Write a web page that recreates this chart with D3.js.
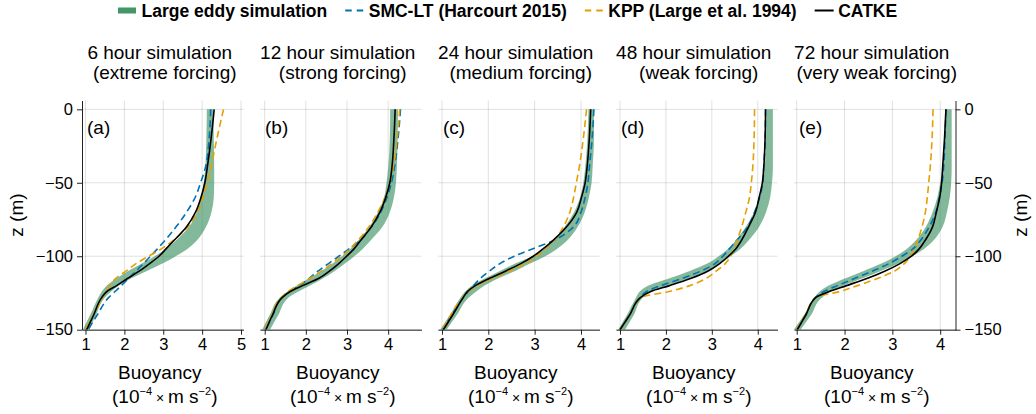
<!DOCTYPE html>
<html>
<head>
<meta charset="utf-8">
<script src="https://cdn.jsdelivr.net/npm/d3@7"></script>
<style>
body { margin: 0; background: #fff; }
svg { font-family: "Liberation Sans", Arial, sans-serif; }
</style>
</head>
<body>
<div id="chart"></div>
<script>
// depth levels (m) shared by every profile
var depths = [0, -20, -40, -50, -60, -70, -80, -90, -95, -100, -105, -110, -115, -120, -124, -128, -140, -150];

var panelTitles = [
    ["6 hour simulation", "(extreme forcing)"],
    ["12 hour simulation", "(strong forcing)"],
    ["24 hour simulation", "(medium forcing)"],
    ["48 hour simulation", "(weak forcing)"],
    ["72 hour simulation", "(very weak forcing)"]
];
var panelLetters = ["(a)", "(b)", "(c)", "(d)", "(e)"];
var xTicks = [[1, 2, 3, 4, 5], [1, 2, 3, 4], [1, 2, 3, 4], [1, 2, 3, 4], [1, 2, 3, 4]];
var xLimits = [[0.91, 5.064], [0.886, 4.81], [0.914, 4.40], [0.913, 4.43], [0.943, 4.32]];
var zTicks = [0, -50, -100, -150];
var zLimits = [-150, 6];

// buoyancy (10^-4 m s^-2), one row per panel
var lesLow = [
    [4.12, 4.11, 4.08, 4.04, 3.97, 3.86, 3.66, 3.30, 3.07, 2.78, 2.45, 2.10, 1.80, 1.55, 1.42, 1.33, 1.12, 0.93],
    [4.05, 4.04, 4.00, 3.96, 3.90, 3.75, 3.54, 3.25, 3.08, 2.88, 2.65, 2.38, 2.08, 1.78, 1.55, 1.37, 1.12, 0.94],
    [4.16, 4.14, 4.09, 4.05, 3.98, 3.85, 3.65, 3.38, 3.20, 2.95, 2.58, 2.25, 1.93, 1.65, 1.50, 1.40, 1.17, 0.96],
    [4.19, 4.18, 4.15, 4.11, 4.04, 3.92, 3.74, 3.50, 3.35, 3.15, 2.90, 2.52, 2.08, 1.62, 1.43, 1.35, 1.15, 0.96],
    [4.12, 4.10, 4.05, 4.00, 3.94, 3.84, 3.70, 3.47, 3.30, 3.07, 2.77, 2.40, 2.02, 1.67, 1.48, 1.37, 1.15, 0.94]
];
var lesHigh = [
    [4.29, 4.30, 4.31, 4.31, 4.30, 4.24, 4.10, 3.84, 3.62, 3.32, 2.98, 2.58, 2.18, 1.86, 1.66, 1.50, 1.27, 1.10],
    [4.24, 4.23, 4.21, 4.19, 4.14, 4.04, 3.86, 3.55, 3.38, 3.18, 2.95, 2.70, 2.42, 2.10, 1.82, 1.58, 1.33, 1.13],
    [4.28, 4.28, 4.25, 4.23, 4.17, 4.08, 3.93, 3.68, 3.48, 3.23, 2.90, 2.58, 2.22, 1.92, 1.74, 1.58, 1.32, 1.10],
    [4.33, 4.33, 4.33, 4.31, 4.27, 4.18, 4.03, 3.78, 3.62, 3.41, 3.18, 2.90, 2.50, 2.04, 1.70, 1.50, 1.30, 1.11],
    [4.24, 4.24, 4.24, 4.23, 4.20, 4.14, 4.05, 3.84, 3.66, 3.42, 3.13, 2.76, 2.38, 1.98, 1.71, 1.53, 1.30, 1.08]
];
var smcLT = [
    [4.22, 4.18, 4.08, 3.96, 3.82, 3.60, 3.33, 3.02, 2.85, 2.67, 2.49, 2.30, 2.11, 1.92, 1.76, 1.60, 1.30, 1.07],
    [4.30, 4.24, 4.15, 4.08, 3.97, 3.82, 3.60, 3.28, 3.05, 2.80, 2.55, 2.30, 2.08, 1.84, 1.62, 1.42, 1.20, 1.03],
    [4.28, 4.24, 4.18, 4.15, 4.09, 4.00, 3.84, 3.36, 2.95, 2.56, 2.25, 2.03, 1.83, 1.68, 1.57, 1.47, 1.21, 1.02],
    [4.17, 4.16, 4.13, 4.11, 4.04, 3.93, 3.78, 3.52, 3.38, 3.24, 3.07, 2.77, 2.36, 1.89, 1.58, 1.44, 1.21, 1.00],
    [4.12, 4.10, 4.07, 4.04, 3.98, 3.91, 3.77, 3.57, 3.43, 3.20, 2.93, 2.59, 2.22, 1.85, 1.57, 1.39, 1.19, 1.01]
];
var kpp = [
    [4.55, 4.38, 4.22, 4.13, 4.02, 3.87, 3.63, 3.22, 2.95, 2.62, 2.30, 2.05, 1.78, 1.61, 1.53, 1.45, 1.20, 1.00],
    [4.28, 4.22, 4.12, 4.04, 3.92, 3.75, 3.53, 3.24, 3.07, 2.87, 2.63, 2.38, 2.10, 1.80, 1.57, 1.40, 1.17, 1.00],
    [4.12, 4.05, 3.96, 3.90, 3.84, 3.76, 3.62, 3.40, 3.23, 3.04, 2.80, 2.47, 2.09, 1.77, 1.57, 1.45, 1.19, 1.00],
    [3.93, 3.92, 3.89, 3.86, 3.82, 3.74, 3.65, 3.54, 3.48, 3.41, 3.29, 3.10, 2.88, 2.52, 2.07, 1.47, 1.21, 1.00],
    [3.85, 3.83, 3.79, 3.76, 3.73, 3.69, 3.62, 3.52, 3.46, 3.38, 3.25, 3.05, 2.70, 2.27, 1.90, 1.40, 1.18, 1.00]
];
var catke = [
    [4.31, 4.23, 4.13, 4.07, 3.97, 3.83, 3.60, 3.25, 3.07, 2.89, 2.65, 2.39, 2.09, 1.80, 1.55, 1.42, 1.21, 1.03],
    [4.17, 4.14, 4.09, 4.04, 3.94, 3.80, 3.59, 3.31, 3.17, 2.99, 2.80, 2.58, 2.32, 1.92, 1.62, 1.43, 1.19, 1.03],
    [4.21, 4.18, 4.13, 4.09, 4.01, 3.91, 3.69, 3.37, 3.18, 2.97, 2.70, 2.38, 2.03, 1.72, 1.55, 1.46, 1.23, 1.03],
    [4.17, 4.16, 4.13, 4.10, 4.03, 3.95, 3.80, 3.63, 3.52, 3.36, 3.17, 2.92, 2.55, 2.08, 1.67, 1.45, 1.21, 1.00],
    [4.12, 4.09, 4.05, 4.03, 3.99, 3.92, 3.84, 3.67, 3.56, 3.40, 3.16, 2.85, 2.48, 2.04, 1.68, 1.40, 1.19, 1.01]
];

var legendLabels = ["Large eddy simulation", "SMC-LT (Harcourt 2015)", "KPP (Large et al. 1994)", "CATKE"];

var svgWidth = 1036;
var svgHeight = 414;

var lesColor = "#2e8b57";
var smcColor = "#0072b2";
var kppColor = "#e69f00";
var catkeColor = "#000000";

var plotTop = 100.5;
var plotBottom = 329.7;
var panelWidth = 161.5;

var svg = d3.select("#chart")
    .append("svg")
    .attr("width", svgWidth)
    .attr("height", svgHeight);

var yScale = d3.scaleLinear()
    .domain(zLimits)
    .range([plotBottom, plotTop]);

panelTitles.forEach(function(title, i) {
    var left = 82 + 178 * i;
    var xScale = d3.scaleLinear()
        .domain(xLimits[i])
        .range([0, panelWidth]);

    var g = svg.append("g")
        .attr("transform", `translate(${left}, 0)`);

    g.append("clipPath")
        .attr("id", "clip" + i)
        .append("rect")
        .attr("x", 0)
        .attr("y", plotTop)
        .attr("width", panelWidth)
        .attr("height", plotBottom - plotTop);

    // grid
    g.selectAll(".vgrid")
        .data(xTicks[i])
        .enter()
        .append("line")
        .attr("x1", d => xScale(d))
        .attr("x2", d => xScale(d))
        .attr("y1", plotTop)
        .attr("y2", plotBottom)
        .attr("stroke", "#000")
        .attr("stroke-opacity", 0.12);

    g.selectAll(".hgrid")
        .data(zTicks)
        .enter()
        .append("line")
        .attr("x1", 0)
        .attr("x2", panelWidth)
        .attr("y1", d => yScale(d))
        .attr("y2", d => yScale(d))
        .attr("stroke", "#000")
        .attr("stroke-opacity", 0.12);

    var plot = g.append("g").attr("clip-path", `url(#clip${i})`);

    var rows = depths.map(function(z, k) {
        return {z: z, lo: lesLow[i][k], hi: lesHigh[i][k], smc: smcLT[i][k], kpp: kpp[i][k], catke: catke[i][k]};
    });

    var band = d3.area()
        .curve(d3.curveMonotoneY)
        .y(d => yScale(d.z))
        .x0(d => xScale(d.lo))
        .x1(d => xScale(d.hi));

    plot.append("path")
        .datum(rows)
        .attr("d", band)
        .attr("fill", lesColor)
        .attr("fill-opacity", 0.6);

    function profile(key) {
        return d3.line()
            .curve(d3.curveMonotoneY)
            .x(d => xScale(d[key]))
            .y(d => yScale(d.z));
    }

    plot.append("path")
        .datum(rows)
        .attr("d", profile("smc"))
        .attr("fill", "none")
        .attr("stroke", smcColor)
        .attr("stroke-width", 1.6)
        .attr("stroke-dasharray", "7,4");

    plot.append("path")
        .datum(rows)
        .attr("d", profile("kpp"))
        .attr("fill", "none")
        .attr("stroke", kppColor)
        .attr("stroke-width", 1.6)
        .attr("stroke-dasharray", "7,4");

    plot.append("path")
        .datum(rows)
        .attr("d", profile("catke"))
        .attr("fill", "none")
        .attr("stroke", catkeColor)
        .attr("stroke-width", 1.6);

    // bottom axis
    var bottomAxis = d3.axisBottom(xScale)
        .tickValues(xTicks[i])
        .tickFormat(d3.format("d"))
        .tickSizeInner(5)
        .tickSizeOuter(0)
        .tickPadding(4);

    var xAxisG = g.append("g")
        .attr("transform", `translate(0, ${plotBottom})`)
        .call(bottomAxis);
    xAxisG.select(".domain").attr("stroke", "#222");
    xAxisG.selectAll(".tick line").attr("stroke", "#222");
    xAxisG.selectAll(".tick text")
        .attr("font-size", 16.5)
        .attr("font-family", null)
        .attr("fill", "#000");

    if (i === 0 || i === panelTitles.length - 1) {
        var yAxis = (i === 0 ? d3.axisLeft(yScale) : d3.axisRight(yScale))
            .tickValues(zTicks)
            .tickFormat(d => d3.format("d")(d).replace("-", "\u2212"))
            .tickSizeInner(5)
            .tickSizeOuter(0)
            .tickPadding(4);
        var yAxisG = g.append("g")
            .attr("transform", `translate(${i === 0 ? 0 : panelWidth}, 0)`)
            .call(yAxis);
        yAxisG.select(".domain").attr("stroke", "#222");
        yAxisG.selectAll(".tick line").attr("stroke", "#222");
        yAxisG.selectAll(".tick text")
            .attr("font-size", 16.5)
            .attr("font-family", null)
            .attr("fill", "#000");

        var zx = i === 0 ? -59 : panelWidth + 71;
        g.append("text")
            .attr("transform", `translate(${zx}, ${(plotTop + plotBottom) / 2}) rotate(-90)`)
            .attr("text-anchor", "middle")
            .attr("font-size", 19)
            .text("z (m)");
    }

    // panel letter
    g.append("text")
        .attr("x", 5)
        .attr("y", 134)
        .attr("font-size", 19)
        .text(panelLetters[i]);

    // titles
    g.append("text")
        .attr("x", panelWidth / 2 - 3)
        .attr("y", 59)
        .attr("text-anchor", "middle")
        .attr("font-size", 19)
        .text(title[0]);
    g.append("text")
        .attr("x", panelWidth / 2 + 2)
        .attr("y", 79)
        .attr("text-anchor", "middle")
        .attr("font-size", 19)
        .text(title[1]);

    // x label
    g.append("text")
        .attr("x", panelWidth / 2 - 3)
        .attr("y", 379)
        .attr("text-anchor", "middle")
        .attr("font-size", 19)
        .text("Buoyancy");
    var unit = g.append("text")
        .attr("x", panelWidth / 2 + 2)
        .attr("y", 403)
        .attr("text-anchor", "middle")
        .attr("font-size", 19);
    unit.append("tspan").text("(10");
    unit.append("tspan").attr("font-size", 11).attr("dy", -8).text("\u22124");
    unit.append("tspan").attr("font-size", 14).attr("dy", 8).text(" \u00d7 ");
    unit.append("tspan").text("m s");
    unit.append("tspan").attr("font-size", 11).attr("dy", -8).text("\u22122");
    unit.append("tspan").attr("dy", 8).text(")");
});

// legend
var legend = svg.append("g");
var lx = 118;
legendLabels.forEach(function(label, k) {
    if (k === 0) {
        legend.append("rect")
            .attr("x", lx).attr("y", 7.5)
            .attr("width", 18).attr("height", 6)
            .attr("fill", lesColor).attr("fill-opacity", 0.9);
    } else {
        legend.append("line")
            .attr("x1", lx).attr("x2", lx + 19)
            .attr("y1", 10.5).attr("y2", 10.5)
            .attr("stroke", [null, smcColor, kppColor, catkeColor][k])
            .attr("stroke-width", 2)
            .attr("stroke-dasharray", k === 3 ? null : "6.5,5");
    }
    var t = legend.append("text")
        .attr("x", lx + 23.5)
        .attr("y", 17)
        .attr("font-size", 17.5)
        .attr("font-weight", "bold")
        .text(label);
    lx += 23.5 + t.node().getComputedTextLength() + 18;
});
</script>
</body>
</html>
